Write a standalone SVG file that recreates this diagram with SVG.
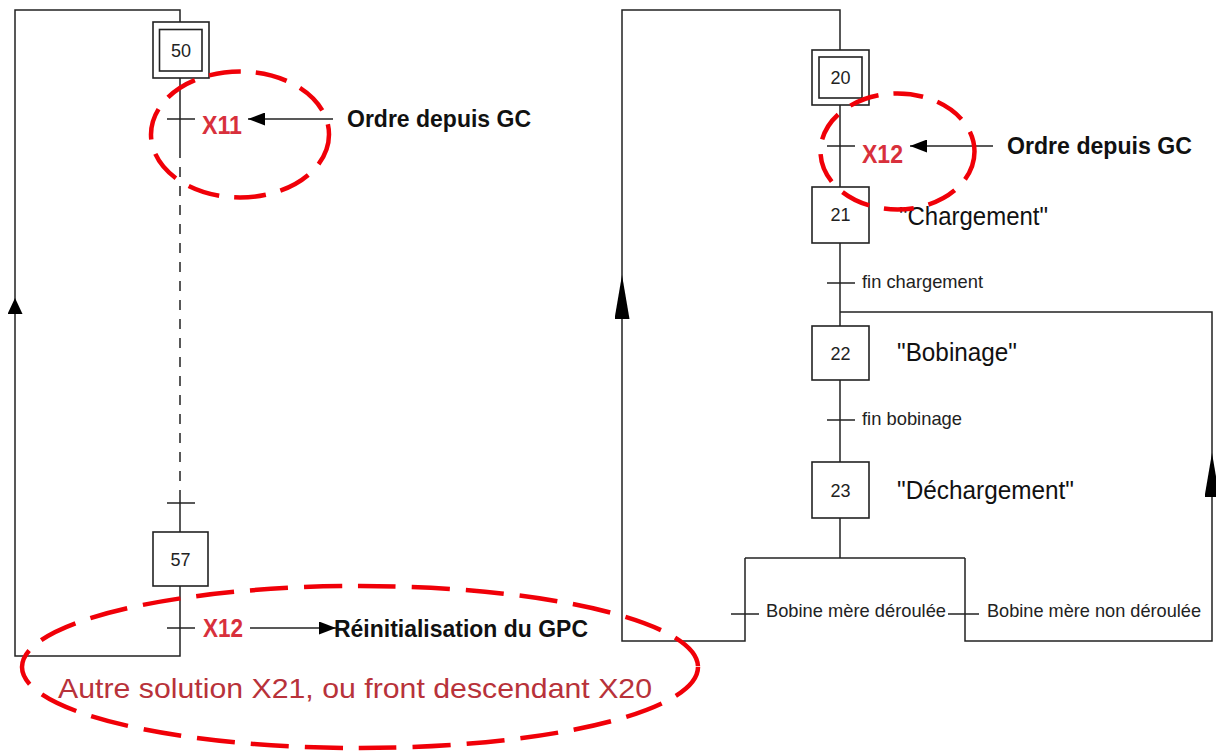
<svg xmlns="http://www.w3.org/2000/svg" width="1216" height="752" viewBox="0 0 1216 752">
<style>
.ln{fill:none;stroke:#222;stroke-width:1.5}
.dash{fill:none;stroke:#222;stroke-width:1.5;stroke-dasharray:10 9}
.box{fill:#fff;stroke:#222;stroke-width:1.6}
.num{font-family:"Liberation Sans",Arial,sans-serif;font-size:18px;fill:#222;text-anchor:middle}
.act{font-family:"Liberation Sans",Arial,sans-serif;font-size:26px;fill:#111}
.cond{font-family:"Liberation Sans",Arial,sans-serif;font-size:18.5px;fill:#222}
.bold{font-family:"Liberation Sans",Arial,sans-serif;font-size:24.5px;font-weight:bold;fill:#111}
.xr{font-family:"Liberation Sans",Arial,sans-serif;font-size:25px;font-weight:bold;fill:#d8303c}
.note{font-family:"Liberation Sans",Arial,sans-serif;font-size:28px;fill:#b8323a}
.ell{fill:none;stroke:#f00008;stroke-width:4.5}
</style>
<defs>
<marker id="ah" markerUnits="userSpaceOnUse" markerWidth="17" markerHeight="13" refX="17" refY="6.5" orient="auto"><path d="M0,0 L17,6.5 L0,13 z" fill="#000"/></marker>
<marker id="upS" markerUnits="userSpaceOnUse" markerWidth="16" markerHeight="15" refX="16" refY="7.5" orient="auto"><path d="M0,0 L16,7.5 L0,15 z" fill="#000"/></marker>
<marker id="upT" markerUnits="userSpaceOnUse" markerWidth="44" markerHeight="15" refX="44" refY="7.5" orient="auto"><path d="M0,0 L44,7.5 L0,15 z" fill="#000"/></marker>
</defs>

<g id="connectors">
  <path class="ln" d="M180,78 V148"/>
  <path class="dash" d="M180,148 V495"/>
  <path class="ln" d="M180,495 V532"/>
  <path class="ln" d="M180,586 V656 H15 V298" marker-end="url(#upS)"/>
  <path class="ln" d="M15,298 V10 H180 V22"/>
  <path class="ln" d="M167,119 H195"/>
  <path class="ln" d="M167,503 H195"/>
  <path class="ln" d="M167,628 H195"/>
  <path class="ln" d="M333,119 H248" marker-end="url(#ah)"/>
  <path class="ln" d="M250,628 H336" marker-end="url(#ah)"/>
  <path class="ln" d="M840,105 V187"/>
  <path class="ln" d="M840,243 V326"/>
  <path class="ln" d="M840,380 V462"/>
  <path class="ln" d="M840,518 V558"/>
  <path class="ln" d="M745,558 H965"/>
  <path class="ln" d="M745,558 V641 H622 V275" marker-end="url(#upT)"/>
  <path class="ln" d="M622,275 V10 H840 V50"/>
  <path class="ln" d="M965,558 V641 H1212 V453" marker-end="url(#upT)"/>
  <path class="ln" d="M1212,453 V312 H840"/>
  <path class="ln" d="M827,146 H855"/>
  <path class="ln" d="M827,283 H855"/>
  <path class="ln" d="M827,420 H855"/>
  <path class="ln" d="M731,614 H759"/>
  <path class="ln" d="M948,614 H979"/>
  <path class="ln" d="M993,146 H910" marker-end="url(#ah)"/>
</g>

<g id="step50">
  <rect class="box" x="153" y="22" width="56" height="56"/>
  <rect class="box" x="159.5" y="29.5" width="42.5" height="41.5"/>
  <text class="num" x="181" y="57">50</text>
</g>
<g id="step57">
  <rect class="box" x="153" y="532" width="55" height="54"/>
  <text class="num" x="180.5" y="566">57</text>
</g>
<g id="step20">
  <rect class="box" x="812" y="50" width="57" height="55"/>
  <rect class="box" x="819" y="57" width="43" height="41"/>
  <text class="num" x="840.5" y="84">20</text>
</g>
<g id="step21">
  <rect class="box" x="812" y="187" width="57" height="56"/>
  <text class="num" x="840.5" y="221">21</text>
  <text class="act" x="899" y="225" textLength="149" lengthAdjust="spacingAndGlyphs">"Chargement"</text>
</g>
<g id="step22">
  <rect class="box" x="812" y="326" width="57" height="54"/>
  <text class="num" x="840.5" y="360">22</text>
  <text class="act" x="897" y="361" textLength="120" lengthAdjust="spacingAndGlyphs">"Bobinage"</text>
</g>
<g id="step23">
  <rect class="box" x="812" y="462" width="57" height="56"/>
  <text class="num" x="840.5" y="497">23</text>
  <text class="act" x="897" y="499" textLength="177" lengthAdjust="spacingAndGlyphs">"Déchargement"</text>
</g>

<g id="labels">
  <text class="xr" x="202" y="134" textLength="40" lengthAdjust="spacingAndGlyphs">X11</text>
  <text class="bold" x="347" y="127" textLength="184" lengthAdjust="spacingAndGlyphs">Ordre depuis GC</text>
  <text class="xr" x="203" y="637" textLength="40" lengthAdjust="spacingAndGlyphs">X12</text>
  <text class="bold" x="334" y="637" textLength="254" lengthAdjust="spacingAndGlyphs">Réinitialisation du GPC</text>
  <text class="xr" x="862" y="163" textLength="41" lengthAdjust="spacingAndGlyphs">X12</text>
  <text class="bold" x="1007" y="154" textLength="185" lengthAdjust="spacingAndGlyphs">Ordre depuis GC</text>
  <text class="cond" x="862" y="288" textLength="121" lengthAdjust="spacingAndGlyphs">fin chargement</text>
  <text class="cond" x="862" y="425" textLength="100" lengthAdjust="spacingAndGlyphs">fin bobinage</text>
  <text class="cond" x="766" y="617" textLength="180" lengthAdjust="spacingAndGlyphs">Bobine mère déroulée</text>
  <text class="cond" x="987" y="617" textLength="214" lengthAdjust="spacingAndGlyphs">Bobine mère non déroulée</text>
  <text class="note" x="58" y="698" textLength="594" lengthAdjust="spacingAndGlyphs">Autre solution X21, ou front descendant X20</text>
</g>

<g id="highlights">
  <ellipse class="ell" cx="240" cy="134.5" rx="89" ry="63" stroke-dasharray="32 15"/>
  <ellipse class="ell" cx="897.5" cy="151.5" rx="77" ry="58" stroke-dasharray="30 15"/>
  <ellipse class="ell" cx="360" cy="667" rx="338" ry="81" stroke-dasharray="38 16"/>
</g>
</svg>
